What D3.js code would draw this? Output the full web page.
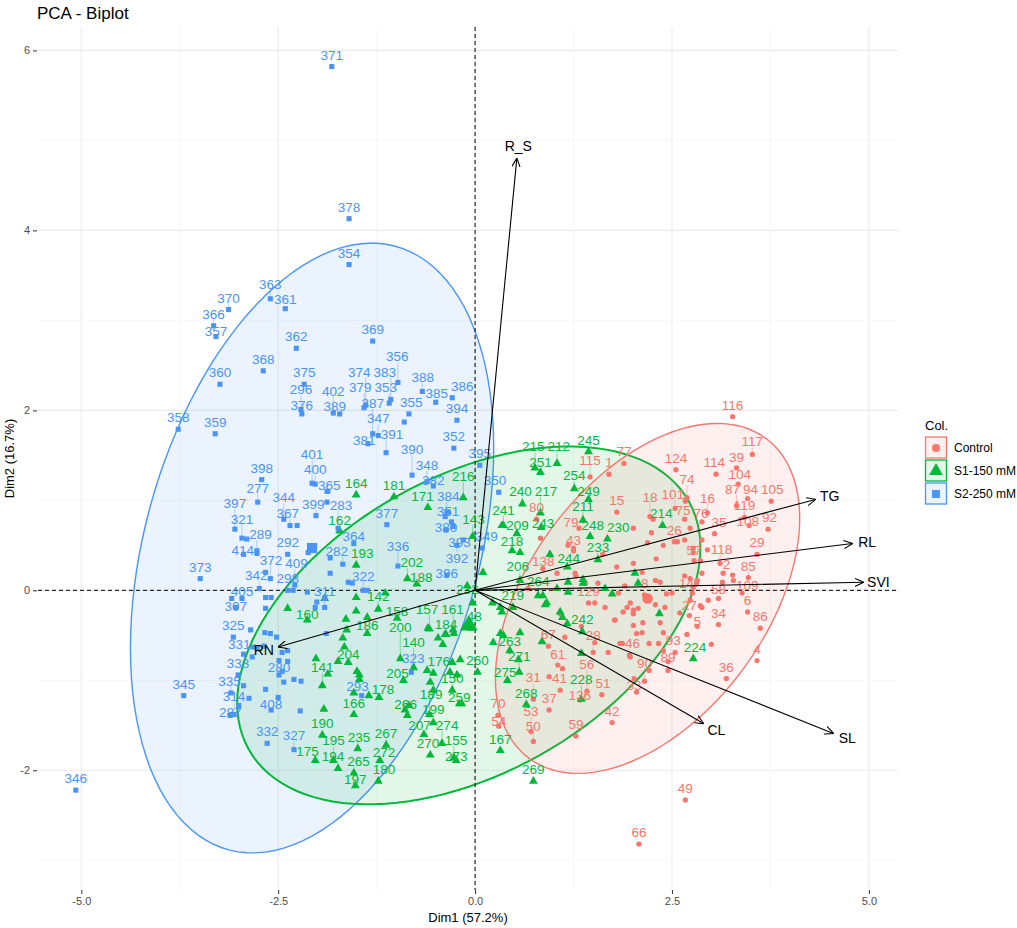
<!DOCTYPE html>
<html>
<head>
<meta charset="utf-8">
<script src="https://cdn.jsdelivr.net/npm/d3@7"></script>
<style>
  body { margin: 0; background: #fff; }
  svg { font-family: "Liberation Sans", Arial, sans-serif; }
</style>
</head>
<body>
<div id="chart"></div>
<script>
// ---- data (Dim1, Dim2) ----
const groups = ["Control", "S1-150 mM", "S2-250 mM"]
const xTicks = [-5, -2.5, 0, 2.5, 5]
const yTicks = [-2, 0, 2, 4, 6]

// [label, Dim1, Dim2]; null label = point whose label was hidden
const controlPts = [
  ["116",3.27,1.93],["39",3.32,1.36],["117",3.52,1.51],["124",2.55,1.34],["114",3.06,1.29],["104",3.34,1.18],
  ["74",2.69,1.03],["16",2.95,0.86],["87",3.32,0.94],["94",3.46,1.02],["105",3.76,0.99],["101",2.54,0.91],
  ["76",2.88,0.76],["119",3.42,0.81],["108",3.48,0.72],["35",3.04,0.63],["92",3.72,0.68],["118",3.11,0.30],
  ["29",3.58,0.40],["57",2.78,0.33],["85",3.47,0.14],["2",3.15,0.19],["109",3.39,-0.03],["6",3.46,-0.24],
  ["58",3.09,-0.09],["14",2.76,-0.03],["27",2.72,-0.28],["5",2.82,-0.40],["34",3.09,-0.38],["86",3.62,-0.42],
  ["4",3.58,-0.78],["93",2.54,-0.69],["89",2.45,-0.89],["36",3.19,-0.98],["90",2.15,-1.01],["33",2.05,-1.13],
  ["46",1.96,-0.72],["56",1.42,-1.12],["28",1.50,-0.69],["61",1.05,-0.83],["31",0.74,-1.21],["51",1.61,-1.16],
  ["41",1.08,-1.11],["37",0.94,-1.33],["136",1.33,-1.22],["42",1.74,-1.47],["53",0.71,-1.57],["59",1.28,-1.62],
  ["50",0.74,-1.68],["54",0.30,-1.51],["70",0.29,-1.39],["67",0.93,-0.62],["129",1.44,-0.14],["138",0.86,0.24],
  ["43",1.25,0.47],["80",0.78,0.79],["79",1.32,0.69],["115",1.46,1.26],["77",1.89,1.41],["1",1.70,1.29],
  ["15",1.80,0.87],["18",2.22,0.82],["75",2.66,0.79],["26",2.53,0.54],["8",2.15,-0.05],["49",2.67,-2.33],
  ["66",2.08,-2.82],
  [null,2.26,0.79],[null,2.01,0.69],[null,2.24,0.64],[null,2.77,0.47],[null,2.57,0.54],[null,2.19,0.53],
  [null,2.01,0.30],[null,2.12,0.20],[null,2.29,0.11],[null,2.35,0.09],[null,2.66,0.16],[null,2.73,0.13],
  [null,2.77,0.03],[null,1.80,0.26],[null,1.82,-0.03],[null,2.43,-0.04],[null,2.50,-0.03],[null,2.73,-0.11],
  [null,2.86,-0.17],[null,2.88,-0.19],[null,2.96,-0.11],[null,1.97,-0.14],[null,1.93,-0.19],[null,2.07,-0.20],
  [null,2.01,-0.26],[null,2.13,-0.36],[null,2.35,-0.36],[null,1.78,-0.33],[null,1.65,-0.19],[null,2.12,-0.47],
  [null,2.39,-0.47],[null,2.69,-0.49],[null,1.56,0.08],[null,2.39,0.50],[null,1.18,0.50],[null,1.25,0.44],
  [null,1.04,0.19],[null,1.28,0.16],[null,1.40,0.08],[null,1.52,-0.14],[null,1.08,-0.26],[null,0.67,0.02],
  [null,0.94,-0.96],[null,1.11,-0.87],[null,1.69,-0.69],[null,1.84,-0.59],[null,1.87,-0.59],[null,1.14,-0.52],
  [null,1.52,-0.58],[null,1.77,-0.33],[null,1.88,-0.24],[null,2.01,-0.22],[null,2.01,-0.39],[null,2.05,-0.48],
  [null,2.21,-0.59],[null,2.33,-0.59],[null,2.39,-0.67],[null,2.41,-0.19],[null,2.29,-0.16],[null,2.45,-0.79],
  [null,2.21,-0.89],[null,2.02,-0.98],[null,1.97,-0.74],[null,2.81,0.07],[null,2.82,0.11],[null,2.88,0.19],
  [null,2.77,0.42],[null,2.88,0.56],[null,2.66,0.56],[null,2.73,0.69],[null,3.27,0.17],[null,3.28,0.11],
  [null,3.14,0.09],[null,2.86,0.33],[null,2.67,0.99],[null,1.27,0.19],[null,0.83,0.58],[null,1.62,0.40],
  [null,2.30,0.35],[null,1.90,0.05],[null,2.60,-0.25],[null,2.95,0.45],[null,3.00,-0.60],[null,1.35,-0.40]
]

const s1Pts = [
  ["164",-1.51,1.06],["181",-1.03,1.04],["171",-0.60,0.92],["162",-1.72,0.66],["193",-1.51,0.28],["202",-0.86,0.13],
  ["232",-0.10,0.05],["188",-0.74,0.07],["142",-1.23,-0.21],["158",-0.99,-0.31],["161",-0.28,-0.44],["48",-0.05,-0.42],
  ["186",-1.37,-0.48],["157",-0.58,-0.43],["184",-0.37,-0.49],["160",-2.13,-0.33],["141",-1.94,-1.06],["204",-1.61,-0.80],
  ["200",-0.95,-0.76],["176",-0.53,-0.92],["205",-0.91,-1.00],["140",-0.78,-0.86],["260",0.03,-0.91],["150",-0.29,-1.11],
  ["166",-1.54,-1.38],["178",-1.22,-1.19],["189",-0.58,-1.38],["207",-0.65,-1.60],["259",-0.20,-1.26],["190",-1.94,-1.61],
  ["235",-1.49,-1.76],["267",-1.13,-1.72],["274",-0.42,-1.70],["195",-1.80,-1.89],["272",-1.21,-1.89],["270",-0.57,-1.83],
  ["155",-0.27,-1.86],["167",0.32,-1.78],["175",-2.03,-1.89],["194",-1.74,-1.98],["265",-1.54,-2.03],["266",-0.86,-1.39],
  ["199",-0.53,-1.47],["273",-0.24,-1.89],["197",-1.52,-2.17],["180",-1.23,-2.12],["269",0.74,-2.12],["216",-0.15,1.03],
  ["143",-0.03,0.60],["218",0.47,0.44],["206",0.57,0.11],["264",0.80,-0.06],["219",0.48,-0.19],["244",1.17,0.26],
  ["209",0.53,0.63],["243",0.84,0.70],["240",0.60,0.96],["241",0.36,0.72],["217",0.83,0.86],["249",1.44,1.01],
  ["211",1.37,0.78],["230",1.68,0.57],["248",1.46,0.60],["214",2.38,0.72],["233",1.56,0.34],["215",0.76,1.36],
  ["251",0.83,1.31],["212",1.04,1.41],["245",1.44,1.54],["254",1.26,1.13],["242",1.36,-0.46],["263",0.44,-0.67],
  ["271",0.56,-0.91],["275",0.41,-1.00],["268",0.65,-1.27],["228",1.35,-1.21],["224",2.77,-0.76],
  [null,0.85,-0.57],[null,0.55,-0.77],[null,0.32,-0.48],[null,0.36,-0.50],[null,0.57,-0.47],[null,0.23,-0.58],
  [null,0.89,-0.16],[null,1.08,-0.24],[null,1.11,-0.30],[null,1.17,-0.37],[null,2.34,-0.26],[null,1.35,-0.70],
  [null,2.03,0.19],[null,2.07,0.08],[null,1.37,0.12],[null,1.37,0.08],[null,1.18,0.09],[null,1.18,-0.02],
  [null,1.65,0.02],[null,1.74,-0.04],[null,1.04,0.02],[null,0.86,-0.06],[null,0.91,-0.14],[null,0.34,0.72],
  [null,-0.03,-0.14],[null,0.22,-0.14],[null,0.32,-0.19],[null,0.34,-0.24],[null,-0.60,-0.42],[null,-0.38,-0.49],
  [null,-1.37,-0.30],[null,-1.64,-0.32],[null,-1.63,-0.44],[null,-1.51,-0.23],[null,-1.14,-0.03],[null,-1.51,-0.08],
  [null,-2.38,-0.20],[null,-1.91,-0.09],[null,-2.02,-0.76],[null,-1.74,-0.79],[null,-1.87,-0.93],[null,-1.92,-1.32],
  [null,-1.68,-0.53],[null,-1.66,-0.63],[null,-1.50,-0.90],[null,-1.47,-0.94],[null,-1.47,-0.99],[null,-0.41,-0.60],
  [null,-0.47,-0.53],[null,-0.61,-0.89],[null,-0.57,-1.02],[null,-0.53,-1.11],[null,-0.29,-0.80],[null,-0.19,-0.77],
  [null,-0.32,-0.91],[null,-0.23,-0.94],[null,-1.54,-1.14],[null,-1.35,-1.17],[null,-0.89,-1.33],[null,-0.84,-1.28],
  [null,-0.17,-1.26],[null,-0.27,-0.48],[null,0.57,0.42],[null,0.10,0.20],[null,0.95,0.40]
]

const s2Pts = [
  ["371",-1.82,5.82],["378",-1.60,4.13],["354",-1.60,3.62],["370",-3.13,3.12],["363",-2.60,3.24],["361",-2.41,3.13],
  ["366",-3.32,2.94],["357",-3.29,2.82],["362",-2.27,2.69],["368",-2.69,2.44],["375",-2.17,2.29],["360",-3.24,2.29],
  ["296",-2.21,2.01],["376",-2.20,1.96],["359",-3.30,1.74],["358",-3.77,1.79],["369",-1.30,2.77],["383",-1.07,2.12],
  ["353",-1.09,2.08],["374",-1.39,2.06],["379",-1.41,2.03],["389",-1.72,1.96],["402",-1.80,1.97],["356",-0.98,2.31],
  ["388",-0.67,2.21],["385",-0.50,2.09],["386",-0.29,2.14],["355",-0.84,1.96],["394",-0.23,1.89],["387",-1.30,1.74],
  ["381",-1.36,1.63],["347",-1.23,1.72],["352",-0.27,1.58],["391",-1.13,1.53],["390",-0.80,1.28],["348",-0.61,1.21],
  ["395",0.06,1.39],["350",0.30,1.09],["382",-0.53,1.16],["384",-0.36,0.87],["351",-0.38,0.82],["377",-1.12,0.73],
  ["364",-1.54,0.52],["336",-0.98,0.27],["380",-0.37,0.67],["393",-0.15,0.56],["392",-0.23,0.50],["349",0.09,0.47],
  ["396",-0.36,0.17],["282",-1.68,0.29],["322",-1.42,0.00],["311",-1.91,-0.19],["298",-2.38,0.00],["405",-2.96,-0.09],
  ["307",-3.04,-0.19],["325",-3.07,-0.52],["342",-2.74,0.02],["414",-2.94,0.40],["373",-3.49,0.13],["289",-2.77,0.44],
  ["372",-2.60,0.13],["409",-2.29,0.06],["292",-2.38,0.40],["321",-2.96,0.58],["367",-2.35,0.72],["397",-3.05,0.68],
  ["344",-2.43,0.79],["399",-2.02,0.83],["277",-2.76,0.98],["398",-2.71,1.23],["401",-2.07,1.19],["400",-2.03,1.18],
  ["365",-1.87,1.10],["283",-1.74,0.69],["331",-2.94,-0.71],["280",-2.49,-0.94],["333",-3.01,-0.94],["345",-3.70,-1.17],
  ["335",-3.10,-1.14],["287",-3.11,-1.39],["314",-3.06,-1.38],["408",-2.59,-1.33],["332",-2.64,-1.70],["327",-2.30,-1.77],
  ["346",-5.07,-2.22],["293",-1.44,-1.17],["323",-0.81,-0.91],
  [null,-2.90,0.57],[null,-2.77,0.41],[null,-2.10,0.48],[null,-2.06,0.48],[null,-2.12,0.42],[null,-2.66,0.20],
  [null,-2.26,0.72],[null,-3.09,-0.09],[null,-2.66,-0.08],[null,-2.59,-0.08],[null,-2.66,-0.20],[null,-2.85,-0.44],
  [null,-2.67,-0.47],[null,-2.60,-0.48],[null,-2.52,-0.52],[null,-2.13,-0.02],[null,-2.01,-0.13],[null,-2.03,-0.19],
  [null,-1.84,0.36],[null,-1.84,0.19],[null,-1.89,-0.48],[null,-2.31,0.00],[null,-2.83,-0.74],[null,-2.82,-0.63],
  [null,-2.76,-0.64],[null,-2.68,-0.62],[null,-2.45,-0.90],[null,-2.43,-1.02],[null,-2.30,-0.99],[null,-2.21,-1.01],
  [null,-2.45,-0.69],[null,-2.38,-0.67],[null,-2.38,-0.79],[null,-2.49,-0.78],[null,-2.94,-1.06],[null,-3.00,-1.28],
  [null,-2.87,-1.20],[null,-2.66,-1.10],[null,-2.50,-1.19],[null,-2.22,-1.34],[null,-1.88,1.10],[null,-1.88,0.98],
  [null,-1.61,0.09],[null,-1.56,0.08],[null,-1.37,0.00],[null,-1.91,-0.09],[null,-0.90,1.87],[null,-0.30,0.76],
  [null,-0.28,0.71],[null,-0.34,0.87]
]

// group centres and covariance (Dim1 var, Dim2 var, covar) for the normal ellipses
const groupCenterX = [2.19, -0.08, -2.07]
const groupCenterY = [-0.09, -0.39, 0.47]
const groupVarX = [0.623, 1.444, 0.888]
const groupVarY = [0.631, 0.660, 1.916]
const groupCov = [0.287, 0.423, 0.428]
const chi2 = 5.991 // 95% level, 2 df

// variable loadings (arrow ends)
const varNames = ["R_S", "TG", "RL", "SVI", "SL", "CL", "RN"]
const varDim1 = [0.53, 4.32, 4.79, 4.93, 4.55, 2.90, -2.50]
const varDim2 = [4.80, 1.01, 0.52, 0.09, -1.59, -1.48, -0.63]

// ---- layout ----
const width = 1017
const height = 928
const panel = { left: 38, right: 898, top: 27, bottom: 890 }
const colors = ["#F8766D", "#00B83A", "#4A94F6"]
const allPts = [controlPts, s1Pts, s2Pts]

const x = d3.scaleLinear().domain([-5.55, 5.37]).range([panel.left, panel.right])
const y = d3.scaleLinear().domain([-3.33, 6.26]).range([panel.bottom, panel.top])
const hyphen = f => d => f(d).replace("\u2212", "-")

const svg = d3.select("#chart").append("svg")
  .attr("width", width).attr("height", height)

// grid
const gGrid = svg.append("g")
const minorX = d3.range(-3.75, 5, 2.5)
const minorY = d3.range(-3, 7, 2)
gGrid.selectAll(".mx").data(minorX).enter().append("line")
  .attr("x1", d => x(d)).attr("x2", d => x(d)).attr("y1", panel.top).attr("y2", panel.bottom)
  .attr("stroke", "#F3F3F3").attr("stroke-width", 0.6)
gGrid.selectAll(".my").data(minorY).enter().append("line")
  .attr("y1", d => y(d)).attr("y2", d => y(d)).attr("x1", panel.left).attr("x2", panel.right)
  .attr("stroke", "#F3F3F3").attr("stroke-width", 0.6)
gGrid.selectAll(".gx").data(xTicks).enter().append("line")
  .attr("x1", d => x(d)).attr("x2", d => x(d)).attr("y1", panel.top).attr("y2", panel.bottom)
  .attr("stroke", "#EBEBEB").attr("stroke-width", 1.1)
gGrid.selectAll(".gy").data(yTicks).enter().append("line")
  .attr("y1", d => y(d)).attr("y2", d => y(d)).attr("x1", panel.left).attr("x2", panel.right)
  .attr("stroke", "#EBEBEB").attr("stroke-width", 1.1)

// axes
const xAxis = svg.append("g")
  .attr("transform", `translate(0,${panel.bottom})`)
  .call(d3.axisBottom(x).tickValues(xTicks).tickFormat(hyphen(d3.format(".1f"))).tickSize(4).tickPadding(3))
const yAxis = svg.append("g")
  .attr("transform", `translate(${panel.left - 1},0)`)
  .call(d3.axisLeft(y).tickValues(yTicks).tickFormat(hyphen(d3.format("d"))).tickSize(4).tickPadding(3))
;[xAxis, yAxis].forEach(a => {
  a.select(".domain").remove()
  a.selectAll(".tick line").attr("stroke", "#333").attr("stroke-width", 1)
  a.selectAll(".tick text").attr("fill", "#4D4D4D").style("font-size", "11px")
    .style("font-family", "'Liberation Sans', Arial, sans-serif")
})

// ellipses
const ellipse = (i) => {
  const a = groupVarX[i] * chi2, b = groupCov[i] * chi2, c = groupVarY[i] * chi2
  const l11 = Math.sqrt(a), l21 = b / l11, l22 = Math.sqrt(c - l21 * l21)
  return d3.range(0, 361, 3).map(deg => {
    const t = deg * Math.PI / 180
    return [groupCenterX[i] + l11 * Math.cos(t), groupCenterY[i] + l21 * Math.cos(t) + l22 * Math.sin(t)]
  })
}
const ellLine = d3.line().x(d => x(d[0])).y(d => y(d[1])).curve(d3.curveLinearClosed)
svg.append("g").selectAll("path").data([2, 1, 0]).enter().append("path")
  .attr("d", i => ellLine(ellipse(i)))
  .attr("fill", i => colors[i]).attr("fill-opacity", 0.11)
  .attr("stroke", i => colors[i]).attr("stroke-width", i => (i === 1 ? 2 : 1.4))

// zero lines
svg.append("line").attr("x1", x(0)).attr("x2", x(0)).attr("y1", panel.top).attr("y2", panel.bottom)
  .attr("stroke", "#000").attr("stroke-width", 1).attr("stroke-dasharray", "4,3")
svg.append("line").attr("y1", y(0)).attr("y2", y(0)).attr("x1", panel.left).attr("x2", panel.right)
  .attr("stroke", "#000").attr("stroke-width", 1).attr("stroke-dasharray", "4,3")

// points
const symbols = [d3.symbolCircle, d3.symbolTriangle, d3.symbolSquare]
const symSize = [22, 34, 26]
const gPts = svg.append("g")
allPts.forEach((pts, gi) => {
  gPts.selectAll(".p" + gi).data(pts).enter().append("path")
    .attr("d", d3.symbol().type(symbols[gi]).size(symSize[gi]))
    .attr("transform", d => `translate(${x(d[1])},${y(d[2])})`)
    .attr("fill", colors[gi])
})
// group mean points
groups.forEach((g, gi) => {
  gPts.append("path")
    .attr("d", d3.symbol().type(symbols[gi]).size(symSize[gi] * 4))
    .attr("transform", `translate(${x(groupCenterX[gi])},${y(groupCenterY[gi])})`)
    .attr("fill", colors[gi])
})

// variable label spots (fixed), computed from the arrow direction
const varLabels = varNames.map((v, vi) => {
  const x1 = x(varDim1[vi]), y1 = y(varDim2[vi])
  const len = Math.hypot(x1 - x(0), y1 - y(0))
  const ux = (x1 - x(0)) / len, uy = (y1 - y(0)) / len
  return { text: v, x1, y1, x: x1 + ux * 15, y: y1 + uy * 12, w: v.length * 9 + 4, h: 16, fixed: true }
})

// repelled point labels (position based, ggrepel-like)
const labelNodes = []
const obstacles = []
allPts.forEach((pts, gi) => pts.forEach(d => {
  const px = x(d[1]), py = y(d[2])
  obstacles.push({ x: px, y: py })
  if (d[0] !== null) {
    labelNodes.push({ text: d[0], g: gi, px, py, x: px, y: py - 12,
      w: d[0].length * 7.5 + 2, h: 15 })
  }
}))
const layoutNodes = labelNodes.concat(varLabels)

function separate(k) {
  for (let i = 0; i < layoutNodes.length; i++) {
    const a = layoutNodes[i]
    for (let j = i + 1; j < layoutNodes.length; j++) {
      const b = layoutNodes[j]
      if (a.fixed && b.fixed) continue
      const dx = b.x - a.x, dy = b.y - a.y
      const ox = (a.w + b.w) / 2 + 1 - Math.abs(dx)
      const oy = (a.h + b.h) / 2 + 0.5 - Math.abs(dy)
      if (ox > 0 && oy > 0) {
        const wa = a.fixed ? 0 : (b.fixed ? 1 : 0.5)
        const wb = 1 - wa
        if (ox < oy) {
          const s = dx > 0 ? 1 : (dx < 0 ? -1 : (i % 2 ? 1 : -1))
          a.x -= s * ox * wa * k; b.x += s * ox * wb * k
        } else {
          const s = dy > 0 ? 1 : (dy < 0 ? -1 : (j % 2 ? 1 : -1))
          a.y -= s * oy * wa * k; b.y += s * oy * wb * k
        }
      }
    }
  }
  labelNodes.forEach(a => {
    a.x = Math.max(panel.left + a.w / 2, Math.min(panel.right - a.w / 2, a.x))
    a.y = Math.max(panel.top + a.h / 2, Math.min(panel.bottom - a.h / 2, a.y))
  })
}

for (let it = 0; it < 300; it++) {
  labelNodes.forEach(n => {
    n.x += (n.px - n.x) * 0.01
    n.y += (n.py - 12 - n.y) * 0.01
  })
  separate(0.6)
  labelNodes.forEach(a => {
    for (const p of obstacles) {
      const dx = a.x - p.x, dy = a.y - p.y
      const ox = a.w / 2 + 2 - Math.abs(dx)
      const oy = a.h / 2 - Math.abs(dy)
      if (ox > 0 && oy > 0) {
        if (ox < oy) a.x += (dx >= 0 ? 1 : -1) * ox * 0.1
        else a.y += (dy >= 0 ? 1 : -1) * oy * 0.1
      }
    }
  })
}
// final clean-up: labels only push each other
for (let it = 0; it < 300; it++) separate(0.9)

const gLab = svg.append("g")
labelNodes.forEach(d => {
  const cx = Math.max(d.x - d.w / 2, Math.min(d.x + d.w / 2, d.px))
  const cy = Math.max(d.y - 6, Math.min(d.y + 6, d.py))
  if (Math.hypot(cx - d.px, cy - d.py) > 6) {
    gLab.append("line")
      .attr("x1", d.px).attr("y1", d.py).attr("x2", cx).attr("y2", cy)
      .attr("stroke", colors[d.g]).attr("stroke-width", 0.6).attr("stroke-opacity", 0.7)
  }
})
gLab.selectAll("text").data(labelNodes).enter().append("text")
  .attr("x", d => d.x).attr("y", d => d.y + 5)
  .attr("text-anchor", "middle")
  .attr("fill", d => colors[d.g])
  .style("font-size", "13.5px")
  .text(d => d.text)

// variable arrows
svg.append("defs").append("marker")
  .attr("id", "arr").attr("viewBox", "0 0 10 10").attr("refX", 9.5).attr("refY", 5)
  .attr("markerWidth", 9).attr("markerHeight", 9).attr("markerUnits", "userSpaceOnUse")
  .attr("orient", "auto")
  .append("path").attr("d", "M0,0.5 L10,5 L0,9.5").attr("fill", "none")
  .attr("stroke", "#000").attr("stroke-width", 1.2)
const gVar = svg.append("g")
gVar.selectAll("line").data(varLabels).enter().append("line")
  .attr("x1", x(0)).attr("y1", y(0)).attr("x2", d => d.x1).attr("y2", d => d.y1)
  .attr("stroke", "#000").attr("stroke-width", 1.1).attr("marker-end", "url(#arr)")
gVar.selectAll("text").data(varLabels).enter().append("text")
  .attr("x", d => d.x).attr("y", d => d.y + 5)
  .attr("text-anchor", "middle").attr("fill", "#000")
  .style("font-size", "14px").text(d => d.text)

// titles
svg.append("text").attr("x", 37).attr("y", 19).style("font-size", "17px").attr("fill", "#000")
  .text("PCA - Biplot")
svg.append("text").attr("x", (panel.left + panel.right) / 2).attr("y", 922)
  .attr("text-anchor", "middle").style("font-size", "13px").text("Dim1 (57.2%)")
svg.append("text")
  .attr("transform", `translate(14,${(panel.top + panel.bottom) / 2}) rotate(-90)`)
  .attr("text-anchor", "middle").style("font-size", "13px").text("Dim2 (16.7%)")

// legend
const lg = svg.append("g").attr("transform", "translate(925,0)")
lg.append("text").attr("x", 0).attr("y", 430).style("font-size", "13px").text("Col.")
groups.forEach((g, gi) => {
  const ky = 437 + gi * 23
  lg.append("rect").attr("x", 0.5).attr("y", ky).attr("width", 21).attr("height", 21)
    .attr("fill", colors[gi]).attr("fill-opacity", 0.11)
    .attr("stroke", colors[gi]).attr("stroke-width", 1.3)
  lg.append("path")
    .attr("d", d3.symbol().type(symbols[gi]).size(symSize[gi] * 2.4))
    .attr("transform", `translate(11,${ky + 11})`).attr("fill", colors[gi])
  lg.append("text").attr("x", 29).attr("y", ky + 15).style("font-size", "12px").text(g)
})
</script>
</body>
</html>
